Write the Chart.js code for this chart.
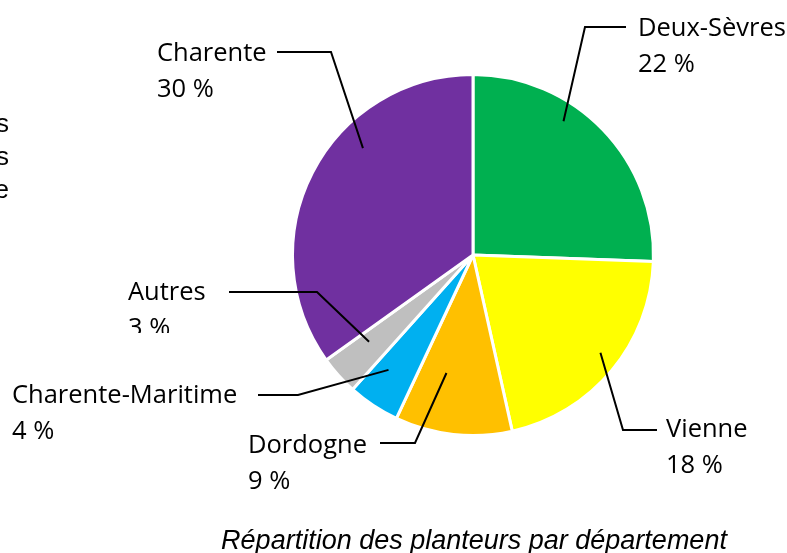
<!DOCTYPE html>
<html>
<head>
<meta charset="utf-8">
<script src="https://cdn.jsdelivr.net/npm/chart.js@4/dist/chart.umd.min.js"></script>
<style>
  html, body { margin: 0; padding: 0; background: #fff; }
  #wrap { width: 787px; height: 553px; }
</style>
</head>
<body>
<div id="wrap"><canvas id="pie" width="787" height="553"></canvas></div>
<script>
const departements = ["Deux-Sèvres", "Vienne", "Dordogne", "Charente-Maritime", "Autres", "Charente"];
const parts = [22, 18, 9, 4, 3, 30];
const couleurs = ["#00B050", "#FFFF00", "#FFC000", "#00B0F0", "#BFBFBF", "#7030A0"];
const titre = "Répartition des planteurs par département";

// where each label sits and where its leader line bends
const labelLayout = [
    { x: 638, y: 36, lineX: 626, elbowX: 585, elbowY: 27, frac: 0.37, rad: 0.895 },
    { x: 666, y: 437, lineX: 657, elbowX: 623, elbowY: 430, frac: 0.47, rad: 0.89 },
    { x: 248, y: 453, lineX: 380, elbowX: 415, elbowY: 443, frac: 0.67, rad: 0.67 },
    { x: 12, y: 403, lineX: 258, elbowX: 298, elbowY: 395, frac: 0.67, rad: 0.79 },
    { x: 128, y: 300, lineX: 229, elbowX: 317, elbowY: 292, frac: 0.66, rad: 0.75, clipY: 333 },
    { x: 157, y: 61, lineX: 277, elbowX: 331, elbowY: 52, frac: 0.635, rad: 0.85 }
];

const labelsPlugin = {
    id: "pieLabels",
    afterDatasetsDraw(chart) {
        const ctx = chart.ctx;
        const meta = chart.getDatasetMeta(0);

        ctx.save();
        ctx.font = "25.5px 'Open Sans'";
        ctx.fillStyle = "#000";
        ctx.strokeStyle = "#000";
        ctx.lineWidth = 2;
        ctx.textBaseline = "alphabetic";

        meta.data.forEach((arc, i) => {
            const p = arc.getProps(["x", "y", "startAngle", "endAngle", "outerRadius"], true);
            const lay = labelLayout[i];
            const a = p.startAngle + (p.endAngle - p.startAngle) * lay.frac;
            const px = p.x + Math.cos(a) * p.outerRadius * lay.rad;
            const py = p.y + Math.sin(a) * p.outerRadius * lay.rad;

            ctx.beginPath();
            ctx.moveTo(lay.lineX, lay.elbowY);
            ctx.lineTo(lay.elbowX, lay.elbowY);
            ctx.lineTo(px, py);
            ctx.stroke();

            ctx.textAlign = "left";
            ctx.fillText(departements[i], lay.x, lay.y);

            ctx.save();
            if (lay.clipY) {
                ctx.beginPath();
                ctx.rect(0, 0, chart.width, lay.clipY);
                ctx.clip();
            }
            ctx.fillText(parts[i] + " %", lay.x, lay.y + 36);
            ctx.restore();
        });

        // clipped text at the left edge
        ctx.font = "26px 'Liberation Sans', Arial";
        ctx.textAlign = "right";
        ["s", "s", "e"].forEach((t, k) => ctx.fillText(t, 9, 132 + k * 33));

        // title
        ctx.font = "italic 27px 'Liberation Sans', Arial";
        ctx.textAlign = "center";
        ctx.fillText(titre, 474, 549);
        ctx.restore();
    }
};

new Chart(document.getElementById("pie"), {
    type: "pie",
    data: {
        labels: departements,
        datasets: [{
            data: parts,
            backgroundColor: couleurs,
            borderColor: "#ffffff",
            borderWidth: 3
        }]
    },
    options: {
        responsive: false,
        animation: false,
        layout: { padding: { left: 291, right: 132, top: 73, bottom: 116 } },
        plugins: {
            legend: { display: false },
            tooltip: { enabled: false }
        }
    },
    plugins: [labelsPlugin]
});
</script>
</body>
</html>
